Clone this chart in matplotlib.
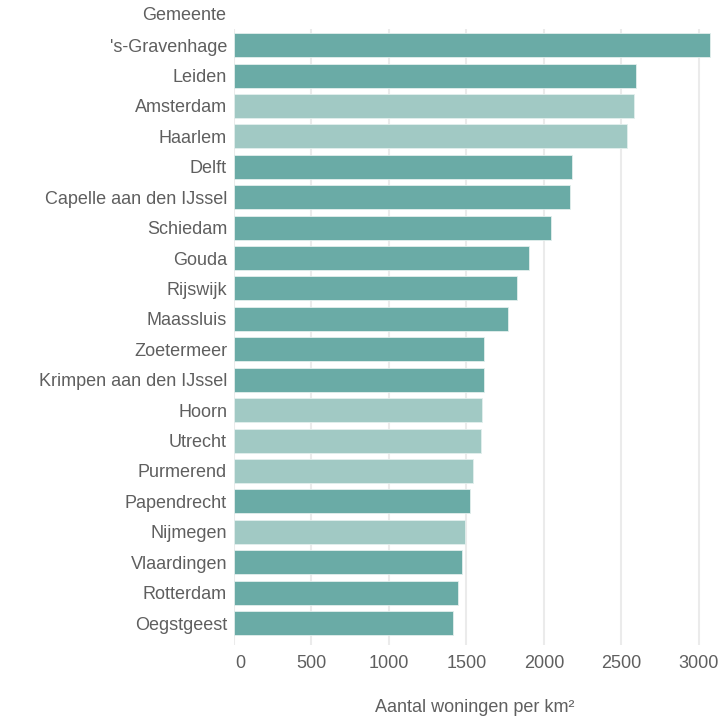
import matplotlib.pyplot as plt
import matplotlib.transforms as mtransforms
import numpy as np

plt.rcParams['font.family'] = ['Liberation Sans', 'DejaVu Sans']

# gemeenten en dichtheid (woningen per km²)
gemeenten = ["'s-Gravenhage", "Leiden", "Amsterdam", "Haarlem", "Delft",
             "Capelle aan den IJssel", "Schiedam", "Gouda", "Rijswijk", "Maassluis",
             "Zoetermeer", "Krimpen aan den IJssel", "Hoorn", "Utrecht", "Purmerend",
             "Papendrecht", "Nijmegen", "Vlaardingen", "Rotterdam", "Oegstgeest"]
waarden = [3074, 2594, 2583, 2534, 2179, 2170, 2048, 1906, 1829, 1768,
           1614, 1614, 1601, 1594, 1543, 1523, 1493, 1474, 1446, 1416]
# lichte balken = andere groep
licht = [False, False, True, True, False, False, False, False, False, False,
         False, False, True, True, True, False, True, False, False, False]

kleur_donker = '#6aaba6'
kleur_licht = '#a1c9c4'
tekst = '#5f5f5f'

fig = plt.figure(figsize=(7.26, 7.22), dpi=100)
ax = fig.add_axes([234/726, 1 - 645/722, 482/726, (645 - 29)/722])

y = np.arange(len(gemeenten))
kleuren = [kleur_licht if l else kleur_donker for l in licht]
ax.barh(y, waarden, height=0.79, color=kleuren, edgecolor='#e3efed', linewidth=0.6, zorder=2)

ax.set_ylim(19.72, -0.53)
ax.set_xlim(0, 3110)
ax.set_yticks(y)
ax.set_yticklabels(gemeenten)
ax.set_xticks([0, 500, 1000, 1500, 2000, 2500, 3000])
ax.tick_params(axis='both', length=0, labelsize=13, colors=tekst)
ax.tick_params(axis='y', pad=5)
ax.tick_params(axis='x', pad=7)
# alleen de "0" iets naar rechts
verschuif = mtransforms.ScaledTranslation(6/100, 0, fig.dpi_scale_trans)
nul = ax.get_xticklabels()[0]
nul.set_transform(nul.get_transform() + verschuif)
ax.grid(axis='x', color='#ebebeb', linewidth=1.5, zorder=0)
for s in ax.spines.values():
    s.set_visible(False)

ax.set_xlabel('Aantal woningen per km²', fontsize=13, color=tekst, labelpad=20)
fig.text(226/726, 1 - 15/722, 'Gemeente', ha='right', va='center', fontsize=13, color=tekst)

fig.savefig('out.png', dpi=100)
